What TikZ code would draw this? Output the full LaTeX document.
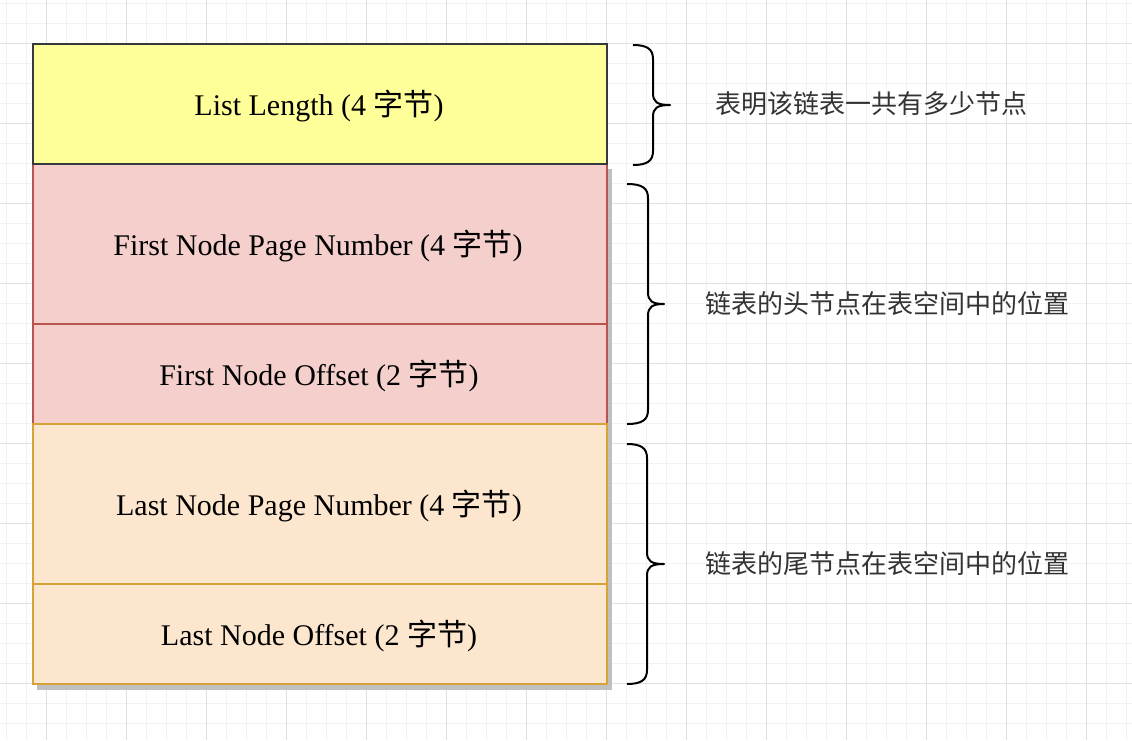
\documentclass[tikz,border=0pt]{standalone}
\usepackage{fontspec}
\setmainfont{Liberation Serif}
\newfontfamily\cjk{Noto Sans CJK SC}
\definecolor{minorgridc}{HTML}{F2F2F2}
\definecolor{majorgridc}{HTML}{E0E0E0}
\definecolor{yellowfill}{HTML}{FFFF99}
\definecolor{yellowline}{HTML}{36393D}
\definecolor{redfill}{HTML}{F4CFCC}
\definecolor{redline}{HTML}{B85450}
\definecolor{orangefill}{HTML}{FCE6CE}
\definecolor{orangeline}{HTML}{D6A23A}
\definecolor{shadowc}{HTML}{C0C0C0}
\definecolor{labelc}{HTML}{333333}
\newcommand{\curlybr}[6]{% left x, line x, tip x, top y, mid y, bottom y
  \draw[bracestyle] (#1,#4) .. controls ({#2-6},#4) and (#2,{#4+4}) .. (#2,{#4+14})
    -- (#2,{#5-12}) .. controls (#2,{#5-3}) and ({#2+4},#5) .. (#3,#5)
    .. controls ({#2+4},#5) and (#2,{#5+3}) .. (#2,{#5+12})
    -- (#2,{#6-14}) .. controls (#2,{#6-4}) and ({#2-6},#6) .. (#1,#6);
}
\begin{document}
\begin{tikzpicture}[x=1pt,y=-1pt,
  minorgrid/.style={draw=minorgridc,line width=1pt},
  majorgrid/.style={draw=majorgridc,line width=1pt},
  field/.style={rectangle,line width=2pt,minimum width=574pt,inner sep=0pt,
    font=\fontsize{30}{36}\selectfont},
  yellowbox/.style={field,fill=yellowfill,draw=yellowline},
  redbox/.style={field,fill=redfill,draw=redline},
  orangebox/.style={field,fill=orangefill,draw=orangeline},
  boxtext/.style={anchor=base,inner sep=0pt,font=\fontsize{30}{36}\selectfont,text=black},
  note/.style={anchor=west,inner sep=0pt,text=labelc,font=\cjk\fontsize{26}{30}\selectfont},
  bracestyle/.style={draw=black,line width=2pt,line cap=butt,line join=round}]
\useasboundingbox (0,0) rectangle (1132,740);
\fill[white] (0,0) rectangle (1132,740);
% grid
\foreach \gx in {6,26,...,1126} \draw[minorgrid] (\gx,0) -- (\gx,740);
\foreach \gy in {3.5,23.5,...,740} \draw[minorgrid] (0,\gy) -- (1132,\gy);
\foreach \gx in {46,126,...,1126} \draw[majorgrid] (\gx,0) -- (\gx,740);
\foreach \gy in {43.5,123.5,...,740} \draw[majorgrid] (0,\gy) -- (1132,\gy);
% shadow
\fill[shadowc] (37,169) rectangle (612,690);
% boxes
\node[redbox,minimum height=160pt] (fpn) at (320,244) {};
\node[redbox,minimum height=100pt] (fno) at (320,374) {};
\node[orangebox,minimum height=160pt] (lpn) at (320,504) {};
\node[orangebox,minimum height=100pt] (lno) at (320,634) {};
\node[yellowbox,minimum height=120pt] (len) at (320,104) {};
% box texts
\node[boxtext] (tlen) at (319,115) {List Length (4 {\cjk 字节})};
\node[boxtext] (tfpn) at (318,255) {First Node Page Number (4 {\cjk 字节})};
\node[boxtext] (tfno) at (319,385) {First Node Offset (2 {\cjk 字节})};
\node[boxtext] (tlpn) at (319,515) {Last Node Page Number (4 {\cjk 字节})};
\node[boxtext] (tlno) at (319,645) {Last Node Offset (2 {\cjk 字节})};
% braces
\curlybr{633}{653}{670}{45}{105}{165}
\curlybr{627}{648}{664}{184}{304}{424}
\curlybr{627}{647}{664}{444}{564}{684}
% notes
\node[note] (n1) at (715,104) {表明该链表一共有多少节点};
\node[note] (n2) at (705,304) {链表的头节点在表空间中的位置};
\node[note] (n3) at (705,564) {链表的尾节点在表空间中的位置};
\end{tikzpicture}
\end{document}
